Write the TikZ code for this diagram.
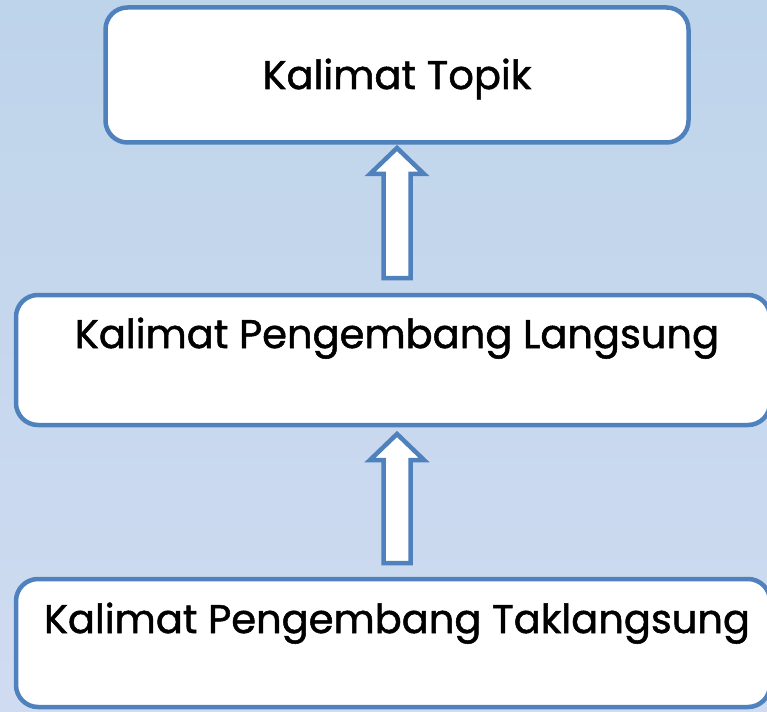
\documentclass[tikz,border=0pt]{standalone}
\usepackage{fontspec}
\setmainfont{Poppins}
\newfontfamily\boxfont{Poppins}[FakeBold=1.3]
\usetikzlibrary{calc}

\definecolor{boxline}{RGB}{79,129,189}
\definecolor{bgtop}{RGB}{190,212,234}
\definecolor{bgbottom}{RGB}{207,219,241}

\begin{document}
\begin{tikzpicture}[
  x=1pt, y=-1pt,
  box/.style={
    draw=boxline, line width=4.5pt, fill=white,
    rounded corners=22pt
  },
  boxtext/.style={
    anchor=base, inner sep=0pt,
    font=\boxfont\fontsize{40}{48}\selectfont
  },
  uparrow/.style={
    draw=boxline, line width=4.5pt, fill=white, line join=miter
  }
  ]

     \useasboundingbox (0,0) rectangle (767,711);
     \clip (0,0) rectangle (767,711);
     \fill[top color=bgtop, bottom color=bgbottom] (0,0) rectangle (767,711);

     % boxes
     \draw[box] (105.5,7.5) rectangle (688.5,142.5);
     \draw[box] (16,295) rectangle (770,425);
     \draw[box] (16,579) rectangle (770,707);
     \coordinate (topik) at (397,89);
     \coordinate (langsung) at (397,348);
     \coordinate (taklangsung) at (397,633);
     \node[boxtext] (topik text) at (topik) {Kalimat Topik};
     \node[boxtext] (langsung text) at (langsung) {Kalimat Pengembang Langsung};
     \node[boxtext] (taklangsung text) at (taklangsung) {Kalimat Pengembang Taklangsung};

     % arrows (foot/tip)
     \coordinate (foot1) at (397,278);
     \coordinate (tip1) at (397,148);
     \coordinate (foot2) at (397,563);
     \coordinate (tip2) at (397,434);
     \foreach \i in {1,2}{
       \draw[uparrow] let \p1=(foot\i), \p2=(tip\i) in
         (\x1-13.5pt,\y1) -- (\x1-13.5pt,\y2-26pt) -- (\x1-27pt,\y2-26pt)
         -- (\x2,\y2) -- (\x1+27pt,\y2-26pt) -- (\x1+13.5pt,\y2-26pt)
         -- (\x1+13.5pt,\y1) -- cycle;
     }
\end{tikzpicture}
\end{document}
